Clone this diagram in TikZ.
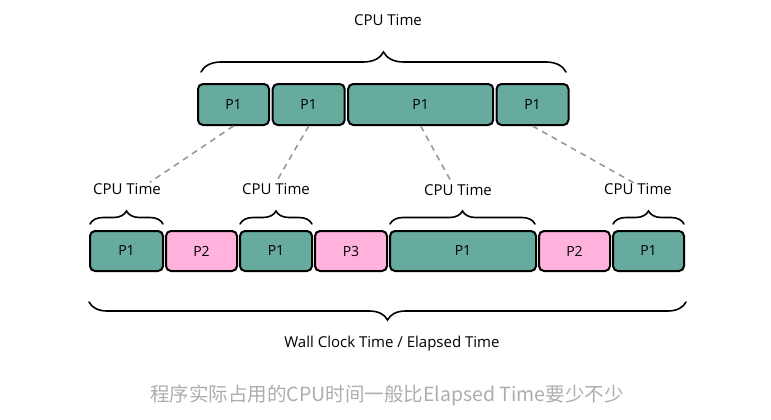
\documentclass[tikz,border=0pt]{standalone}
\usepackage{fontspec}
\setmainfont{Open Sans}
\newfontfamily\cjk{Noto Sans CJK SC}
\usetikzlibrary{decorations.pathreplacing,calc}
\definecolor{tealfill}{HTML}{67AB9F}
\definecolor{pinkfill}{HTML}{FFB3DC}
\definecolor{dashgray}{HTML}{999999}
\definecolor{capgray}{HTML}{ADADAD}
\tikzset{
  blk/.style={draw=black, line width=2pt, rounded corners=5pt, inner sep=0pt, font=\fontsize{14}{16}\selectfont},
  tblk/.style={blk, fill=tealfill},
  pblk/.style={blk, fill=pinkfill},
  lbl/.style={font=\fontsize{15}{17}\selectfont, inner sep=1pt},
  brc/.style={decorate, line width=1.6pt, line cap=round},
  dashln/.style={draw=dashgray, line width=1.6pt, dash pattern=on 6pt off 5pt},
}
\begin{document}
\begin{tikzpicture}[x=1pt, y=-1pt]
\useasboundingbox (0,0) rectangle (771,420);
% top row
\node[tblk, minimum width=71pt, minimum height=41pt] (t1) at (233.5,104.5) {P1};
\node[tblk, minimum width=72pt, minimum height=41pt] (t2) at (308.7,104.5) {P1};
\node[tblk, minimum width=145pt, minimum height=41pt] (t3) at (420.7,104.5) {P1};
\node[tblk, minimum width=72pt, minimum height=41pt] (t4) at (532.5,104.5) {P1};
% bottom row
\node[tblk, minimum width=73pt, minimum height=40pt] (b1) at (126.5,251) {P1};
\node[pblk, minimum width=71pt, minimum height=40pt] (b2) at (201.5,251) {P2};
\node[tblk, minimum width=72pt, minimum height=40pt] (b3) at (276,251) {P1};
\node[pblk, minimum width=72pt, minimum height=40pt] (b4) at (351,251) {P3};
\node[tblk, minimum width=146pt, minimum height=40pt] (b5) at (463,251) {P1};
\node[pblk, minimum width=71pt, minimum height=40pt] (b6) at (574.5,251) {P2};
\node[tblk, minimum width=71pt, minimum height=40pt] (b7) at (648.5,251) {P1};
% labels
\node[lbl] (lt) at (388,20) {CPU Time};
\node[lbl] (l1) at (127,189) {CPU Time};
\node[lbl] (l2) at (276,189) {CPU Time};
\node[lbl] (l3) at (458,190) {CPU Time};
\node[lbl] (l4) at (638,189) {CPU Time};
\node[lbl] (lw) at (392,344) {Wall Clock Time / Elapsed Time};
\node[font=\cjk\fontsize{19.5}{22}\selectfont, text=capgray] (cap) at (387,395) {程序实际占用的CPU时间一般比Elapsed Time要少不少};
% braces
\draw[brc, decoration={brace, amplitude=20pt}] (201,72) -- (566,72);
\draw[brc, decoration={brace, amplitude=13pt}] (90,224) -- (163,224);
\draw[brc, decoration={brace, amplitude=13pt}] (240,224) -- (312,224);
\draw[brc, decoration={brace, amplitude=13pt}] (390,224) -- (535,224);
\draw[brc, decoration={brace, amplitude=13pt}] (613,224) -- (684,224);
\draw[brc, decoration={brace, mirror, amplitude=18pt}] (89,302) -- (686,302);
% dashed connectors
\draw[dashln] (t1.south) -- ([xshift=23pt]l1.north);
\draw[dashln] (t2.south) -- (l2.north);
\draw[dashln] (t3.south) -- ([xshift=-6pt]l3.north);
\draw[dashln] (t4.south) -- ([yshift=-3pt]l4.north);
\end{tikzpicture}
\end{document}
